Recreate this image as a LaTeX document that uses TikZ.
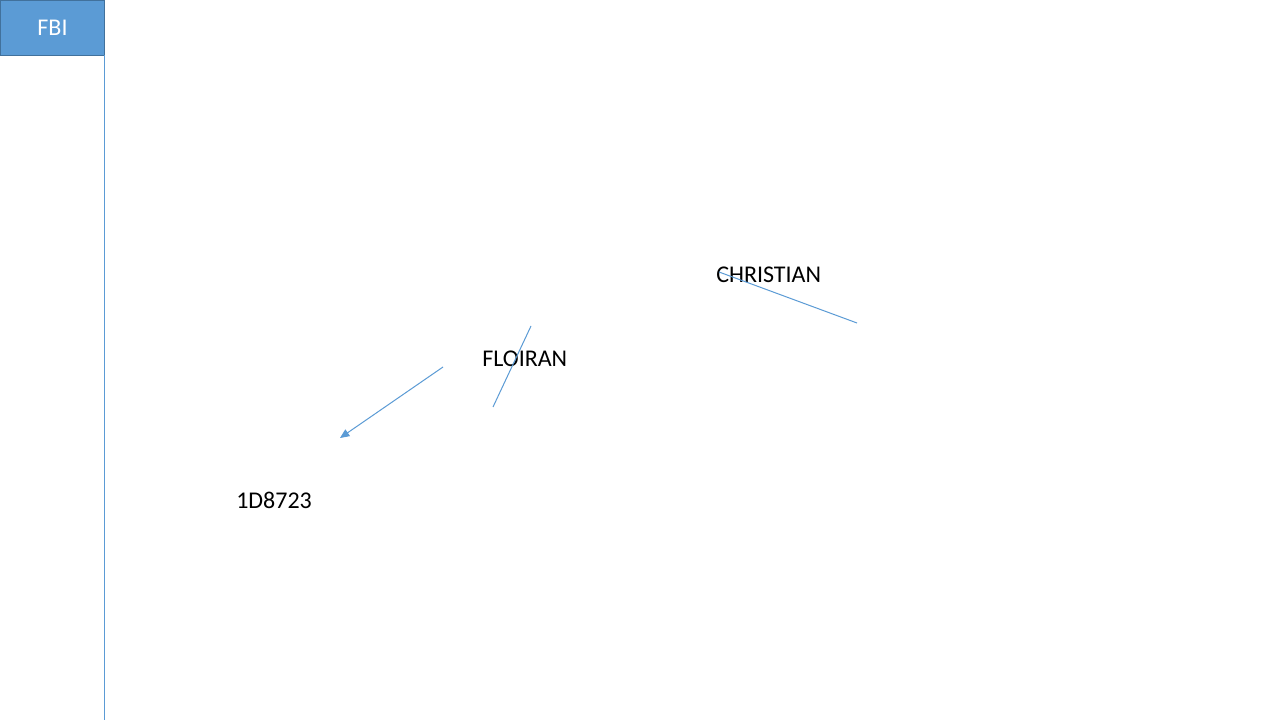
\documentclass[tikz,border=0pt]{standalone}
\usepackage{fontspec}
\setmainfont{Carlito}
\usetikzlibrary{arrows.meta}
\definecolor{accent}{HTML}{5B9BD5}
\definecolor{accentdark}{HTML}{41719C}
\begin{document}
\begin{tikzpicture}[x=0.75pt,y=-0.75pt,
  label/.style={inner sep=0pt,anchor=west,font=\fontsize{18}{21}\selectfont},
  conn/.style={draw=accent,line width=0.75pt}]
\useasboundingbox (0,0) rectangle (1280,720);
\fill[white] (0,0) rectangle (1280,720);
\node[draw=accentdark,fill=accent,line width=0.75pt,minimum width=104*0.75pt,minimum height=55*0.75pt,anchor=north west,inner sep=0pt,text=white,font=\fontsize{18}{21}\selectfont] (fbi) at (0,0) {FBI};
\coordinate (vtop) at (104,55);
\coordinate (vbot) at (104,720);
\draw[conn] (vtop) -- (vbot);
\node[label] (christian) at (716,275) {CHRISTIAN};
\node[label] (floiran) at (482,359) {FLOIRAN};
\node[label] (code) at (236,500) {1D8723};
\coordinate (a1) at (443,367);
\coordinate (a2) at (340,438);
\coordinate (b1) at (531,326);
\coordinate (b2) at (493,407);
\coordinate (c1) at (719,272);
\coordinate (c2) at (857,323);
\draw[conn,-{Triangle[length=7pt,width=6pt]}] (a1) -- (a2);
\draw[conn] (b1) -- (b2);
\draw[conn] (c1) -- (c2);
\end{tikzpicture}
\end{document}
